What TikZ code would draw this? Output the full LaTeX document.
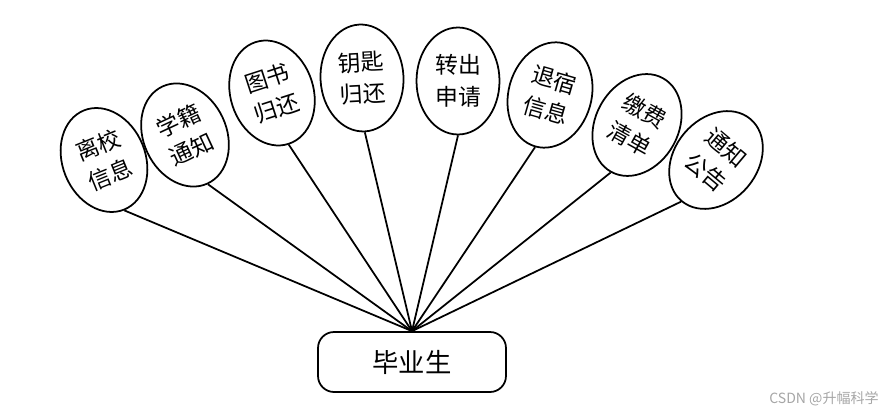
\documentclass[tikz,border=0pt]{standalone}
\usepackage{fontspec}
\setmainfont{Noto Sans CJK SC}
\usetikzlibrary{shapes.geometric}

\begin{document}
\begin{tikzpicture}[
            x=0.02cm, y=-0.02cm,
            item_style/.style={ellipse, draw, line width=1pt, minimum width=1.66cm, minimum height=2.14cm, inner sep=0pt, align=center, font=\fontsize{13}{18}\selectfont},
            user_style/.style={rectangle, rounded corners=0.32cm, draw, line width=1pt, minimum width=3.76cm, minimum height=1.2cm, font=\fontsize{15}{18}\selectfont},
            line/.style={line width=1pt}
        ]
        \useasboundingbox (0,0) rectangle (895,418);

        % Alt düğüm
        \node (student) [user_style] at (412,362) {毕业生};

        % Fan of functions
        \node (leave) [item_style, rotate=22] at (104,160) {离校\\信息};
        \node (status) [item_style, rotate=25] at (185,135) {学籍\\通知};
        \node (books) [item_style, rotate=18] at (272,93) {图书\\归还};
        \node (keys) [item_style, rotate=3] at (362,78) {钥匙\\归还};
        \node (transfer) [item_style] at (458,81) {转出\\申请};
        \node (dorm) [item_style, rotate=-16] at (550,95) {退宿\\信息};
        \node (fees) [item_style, rotate=-29] at (637,125) {缴费\\清单};
        \node (notice) [item_style, rotate=-40] at (716,160) {通知\\公告};

        % Connections
        \foreach \n in {leave, status, books, keys, transfer, dorm, fees, notice}
            \draw [line] (student.north) -- (\n.south);

        % Watermark
        \node (mark) [text=gray!70, font=\fontsize{8}{10}\selectfont] at (824,399) {CSDN @升幅科学};

    \end{tikzpicture}
\end{document}
